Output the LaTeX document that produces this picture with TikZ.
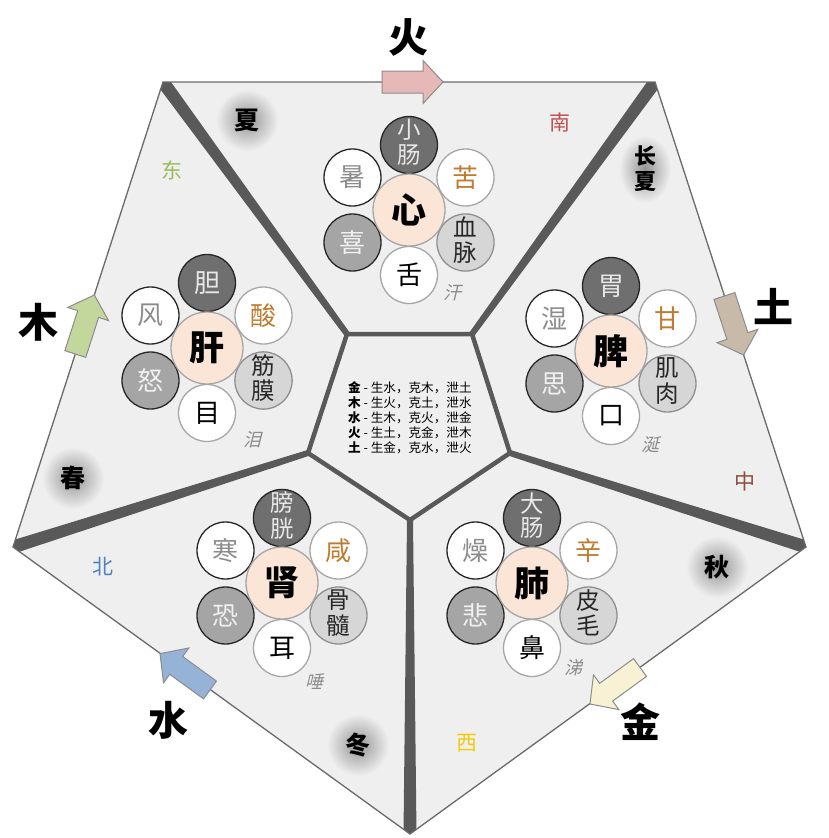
\documentclass[tikz,border=0pt]{standalone}
\usepackage{fontspec}
\setmainfont{Noto Sans CJK SC}
\newfontfamily\cjksl{Noto Sans CJK SC}[FakeSlant=0.25]
\usetikzlibrary{calc}
\definecolor{bgc}{HTML}{EFEFEF}
\definecolor{cband}{HTML}{595959}
\definecolor{cedge}{HTML}{6A6A6A}
\definecolor{cfu}{HTML}{6F6F6F}
\definecolor{cfutext}{HTML}{E8E8E8}
\definecolor{cdark}{HTML}{262626}
\definecolor{clight}{HTML}{A6A6A6}
\definecolor{cqi}{HTML}{8C8C8C}
\definecolor{cwei}{HTML}{BF7B2F}
\definecolor{cemo}{HTML}{A5A5A5}
\definecolor{cemotext}{HTML}{F0F0F0}
\definecolor{ctis}{HTML}{D6D6D6}
\definecolor{ctisd}{HTML}{8F8F8F}
\definecolor{ctistext}{HTML}{262626}
\definecolor{cpeach}{HTML}{FBE5D6}
\definecolor{cye}{HTML}{8C8C8C}
\definecolor{carr}{HTML}{8C8C8C}
\definecolor{afire}{HTML}{E6B9B8}
\definecolor{aearth}{HTML}{C8BAA8}
\definecolor{awood}{HTML}{C3D69B}
\definecolor{awater}{HTML}{95B3D7}
\definecolor{ametal}{HTML}{F8F1D4}
\definecolor{deast}{HTML}{9BBB59}
\definecolor{dsouth}{HTML}{C0504D}
\definecolor{dcenter}{HTML}{8C4F3F}
\definecolor{dwest}{HTML}{F2CC0C}
\definecolor{dnorth}{HTML}{4F81BD}
\tikzset{
 sat/.style={circle, minimum size=57pt, inner sep=0pt, line width=1.3pt, align=center, font=\fontsize{26}{28}\selectfont},
 fu/.style={sat, fill=cfu, draw=cdark, text=cfutext},
 qi/.style={sat, fill=white, draw=cdark, text=cqi},
 wei/.style={sat, fill=white, draw=clight, text=cwei},
 zhi/.style={sat, fill=cemo, draw=cdark, text=cemotext},
 ti/.style={sat, fill=ctis, draw=ctisd, text=ctistext},
 qiao/.style={sat, fill=white, draw=clight, text=black},
 zang/.style={circle, minimum size=72pt, inner sep=0pt, fill=cpeach, draw=clight, line width=1.3pt, font=\fontsize{35}{37}\selectfont\bfseries},
 ye/.style={font=\cjksl\fontsize{18}{20}\selectfont, text=cye},
 season/.style={font=\fontsize{25}{27}\selectfont\bfseries, text=black, align=center},
 dirlab/.style={font=\fontsize{21}{23}\selectfont},
 elem/.style={font=\fontsize{40}{42}\selectfont\bfseries, text=black},
 arr/.style={draw=carr, line width=1pt, line join=miter},
 glow/.style={inner color=black!42, outer color=bgc}
}
\newcommand{\twoch}[2]{{\fontsize{23.5}{23}\selectfont\begin{tabular}{@{}c@{}}#1\\[-1pt]#2\end{tabular}}}
% #1 name, #2 centre, #3 zang, #4 fu, #5 qi, #6 wei, #7 zhi, #8 ti, #9 qiao
\newcommand{\organcluster}[9]{%
 \coordinate (#1) at #2;
 \node[fu] (#1-fu) at ($(#1)+(0,-65)$) {#4};
 \node[qi] (#1-qi) at ($(#1)+(-56.5,-32.5)$) {#5};
 \node[wei] (#1-wei) at ($(#1)+(56.5,-32.5)$) {#6};
 \node[zhi] (#1-zhi) at ($(#1)+(-56.5,32.5)$) {#7};
 \node[ti] (#1-ti) at ($(#1)+(56.5,32.5)$) {#8};
 \node[qiao] (#1-qiao) at ($(#1)+(0,65)$) {#9};
 \node[zang] (#1-zang) at (#1) {#3};
}
% #1 name, #2 colour, #3 tip, #4 tail
\newcommand{\blockarrow}[4]{%
 \coordinate (#1T) at #3; \coordinate (#1S) at #4;
 \coordinate (#1H) at ($(#1T)!20pt!(#1S)$);
 \filldraw[arr, fill=#2] (#1T) -- ($(#1H)!21.5pt!90:(#1T)$) -- ($(#1H)!11pt!90:(#1T)$)
   -- ($(#1S)!11pt!90:(#1T)$) -- ($(#1S)!11pt!-90:(#1T)$) -- ($(#1H)!11pt!-90:(#1T)$)
   -- ($(#1H)!21.5pt!-90:(#1T)$) -- cycle;
}
% #1 inner, #2 outer
\newcommand{\taperband}[2]{%
 \fill[cband] ($(#1)!3pt!90:(#2)$) -- ($(#2)!6.5pt!-90:(#1)$) -- ($(#2)!6.5pt!90:(#1)$) -- ($(#1)!3pt!-90:(#2)$) -- cycle;
}
\begin{document}
\begin{tikzpicture}[x=1pt, y=-1pt]
\useasboundingbox (0,0) rectangle (828,838);
\fill[white] (0,0) rectangle (828,838);
% pentagon corners
\coordinate (OTL) at (163,82);
\coordinate (OTR) at (655,82);
\coordinate (OR) at (806,547);
\coordinate (OB) at (410,834);
\coordinate (OL) at (13,547);
\coordinate (ITL) at (347,334);
\coordinate (ITR) at (472,334);
\coordinate (IR) at (510,453);
\coordinate (IB) at (410,520);
\coordinate (IL) at (308,453);
\fill[bgc] (OTL) -- (OTR) -- (OR) -- (OB) -- (OL) -- cycle;
% season glows
\shade[glow] (247,120) circle (31pt);
\shade[glow] (645,169) ellipse (26pt and 34pt);
\shade[glow] (73,478) circle (31pt);
\shade[glow] (358,745) circle (31pt);
\shade[glow] (717,567) circle (31pt);
% dividers
\begin{scope}
\clip (OTL) -- (OTR) -- (OR) -- (OB) -- (OL) -- cycle;
\taperband{ITL}{OTL}
\taperband{ITR}{OTR}
\taperband{IR}{OR}
\taperband{IB}{OB}
\taperband{IL}{OL}
\end{scope}
\draw[cband, line width=4.5pt, line join=round] (ITL) -- (ITR) -- (IR) -- (IB) -- (IL) -- cycle;
\draw[cedge, line width=1.3pt, line join=miter] (OTL) -- (OTR) -- (OR) -- (OB) -- (OL) -- cycle;
% arrows along the generating cycle
\blockarrow{fire}{afire}{(443,82)}{(382,82)}
\blockarrow{earth}{aearth}{(743.6,355)}{(724.4,296)}
\blockarrow{metal}{ametal}{(590,704)}{(640,667.5)}
\blockarrow{water}{awater}{(160,653.6)}{(210,690)}
\blockarrow{wood}{awood}{(94.3,295)}{(75.3,354)}
% element labels
\node[elem] (lfire) at (408,37) {火};
\node[elem] (learth) at (773,306) {土};
\node[elem] (lmetal) at (640,722) {金};
\node[elem] (lwater) at (168,720) {水};
\node[elem] (lwood) at (38,322) {木};
% seasons
\node[season] (ssummer) at (247,120) {夏};
\node[season, font=\fontsize{22}{25}\selectfont\bfseries] (slate) at (645,169) {长\\夏};
\node[season] (sspring) at (73,478) {春};
\node[season] (swinter) at (358,745) {冬};
\node[season] (sautumn) at (717,567) {秋};
% directions
\node[dirlab, text=deast] (deast) at (172,170) {东};
\node[dirlab, text=dsouth] (dsouth) at (560,123) {南};
\node[dirlab, text=dcenter] (dcenter) at (745,482) {中};
\node[dirlab, text=dwest] (dwest) at (467,743) {西};
\node[dirlab, text=dnorth] (dnorth) at (103,567) {北};
% organ clusters
\organcluster{xin}{(409,210)}{心}{\twoch{小}{肠}}{暑}{苦}{喜}{\twoch{血}{脉}}{舌}
\node[ye] (xin-ye) at ($(xin)+(43,83)$) {汗};
\organcluster{gan}{(207,348)}{肝}{胆}{风}{酸}{怒}{\twoch{筋}{膜}}{目}
\node[ye] (gan-ye) at ($(gan)+(45,92)$) {泪};
\organcluster{pi}{(611,351)}{脾}{胃}{湿}{甘}{思}{\twoch{肌}{肉}}{口}
\node[ye] (pi-ye) at ($(pi)+(39,94)$) {涎};
\organcluster{shen}{(282,583)}{肾}{\twoch{膀}{胱}}{寒}{咸}{恐}{\twoch{骨}{髓}}{耳}
\node[ye] (shen-ye) at ($(shen)+(32,99)$) {唾};
\organcluster{fei}{(532,583)}{肺}{\twoch{大}{肠}}{燥}{辛}{悲}{\twoch{皮}{毛}}{鼻}
\node[ye] (fei-ye) at ($(fei)+(41,85)$) {涕};
% centre rules
\node[anchor=west, align=left, inner sep=0pt, font=\fontsize{12.6}{15}\selectfont] (rules) at (348,418)
 {\textbf{金} - 生水，克木，泄土\\
  \textbf{木} - 生火，克土，泄水\\
  \textbf{水} - 生木，克火，泄金\\
  \textbf{火} - 生土，克金，泄木\\
  \textbf{土} - 生金，克水，泄火};
\end{tikzpicture}
\end{document}
